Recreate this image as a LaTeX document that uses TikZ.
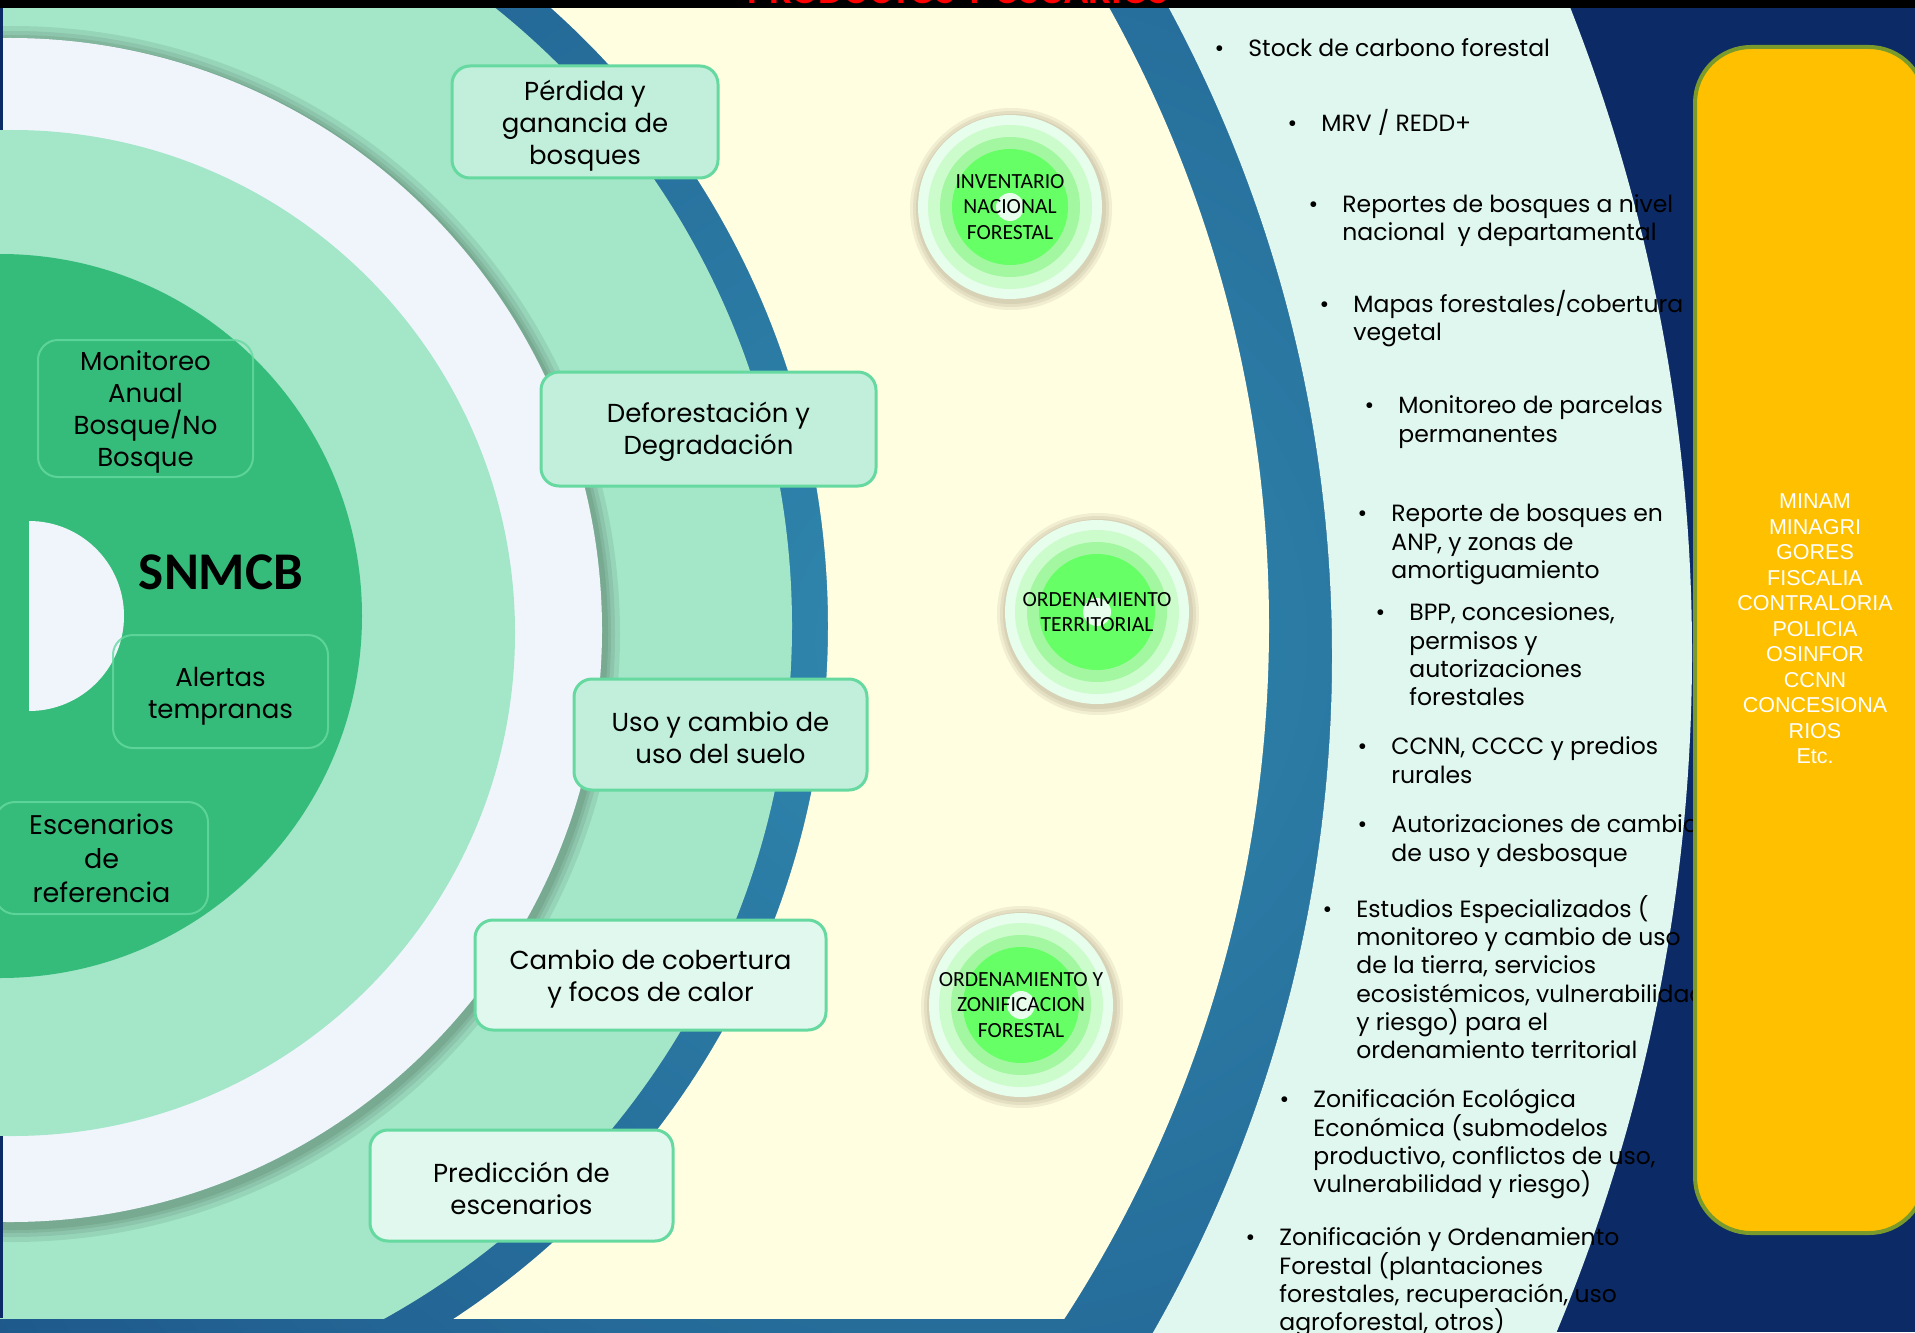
\documentclass[tikz,border=0pt]{standalone}
\usepackage{fontspec}
\setmainfont{Poppins}
\newfontfamily\calibri{Carlito}
\newfontfamily\arialsans{Liberation Sans}
\usetikzlibrary{calc}

\definecolor{navy}{HTML}{0C2A66}
\definecolor{ringlight}{HTML}{3089AF}
\definecolor{ringdark}{HTML}{1A4C82}
\definecolor{mint}{HTML}{A3E6C8}
\definecolor{forest}{HTML}{35BC7A}
\definecolor{paleblue}{HTML}{F0F5FC}
\definecolor{cream}{HTML}{FFFEE0}
\definecolor{cyanband}{HTML}{DFF7EE}
\definecolor{boxfill}{HTML}{C2EFDB}
\definecolor{boxfilllight}{HTML}{E0F8EE}
\definecolor{boxedge}{HTML}{66D9A0}
\definecolor{gold}{HTML}{FFC000}
\definecolor{olive}{HTML}{7A9A2C}
\definecolor{ringone}{HTML}{E6FEEB}
\definecolor{ringtwo}{HTML}{CCFCCC}
\definecolor{ringthree}{HTML}{A2F7A0}
\definecolor{core}{HTML}{66FF66}

\begin{document}
\begin{tikzpicture}[x=0.5pt, y=-0.5pt,
	mintbox/.style={draw=boxedge, line width=1.5pt, rounded corners=9pt, fill=boxfill, align=center, inner sep=0pt, font=\fontsize{13}{16}\selectfont},
	mintboxlight/.style={mintbox, fill=boxfilllight},
	innerbox/.style={draw=boxedge, draw opacity=0.8, line width=1pt, rounded corners=10pt, align=center, inner sep=0pt, font=\fontsize{13}{16}\selectfont},
	bulletitem/.style={anchor=north west, align=left, inner sep=0pt, font={\fontsize{11.75}{14.15}\selectfont\lineskiplimit=-20pt}},
	circlelabel/.style={align=center, inner sep=0pt, font=\calibri\fontsize{10.8}{12.8}\selectfont},
	orgbox/.style={draw=olive, line width=2pt, fill=gold, rounded corners=28pt, minimum width=115pt, minimum height=593pt},
	orgtext/.style={align=center, inner sep=0pt, text=white, font=\arialsans\fontsize{10.75}{12.75}\selectfont}
	]

	\useasboundingbox (0,0) rectangle (1915,1332);

	% background and rings
	\fill[navy] (0,0) rectangle (1915,1332);
	\begin{scope}
		\clip (-34,656) circle (1366);
		\shade[inner color=ringlight, outer color=ringdark] (950,640) circle (1500);
	\end{scope}
	\fill[cyanband, even odd rule] (-72,653) circle (1764) (-34,656) circle (1366);

	\begin{scope}
		\clip (0,8) rectangle (1915,1318);
		\fill[cream, even odd rule] (-5,626) circle (1274) (0,626) circle (828);
		\fill[mint] (0,626) circle (792);
		\foreach \s in {16,11,7,4}
			\fill[black, opacity=0.07] (12,634) circle (592+\s);
		\fill[paleblue] (10,630) circle (592);
		\fill[navy] (0,8) rectangle (2.5,1318);
		\fill[mint] (12,633) circle (503);
		\fill[forest] (0,616) circle (362);
		\fill[paleblue] (29,711) arc[start angle=90, end angle=-90, radius=95] -- cycle;
	\end{scope}

	% inner boxes
	\node[font=\calibri\bfseries\fontsize{26.5}{26.5}\selectfont] (snmcb) at (221,572) {SNMCB};
	\node[innerbox, minimum width=107.5pt, minimum height=68.5pt] (monitoreo) at (145.5,408.5) {\rule{0pt}{13.5pt}Monitoreo\\Anual\\Bosque/No\\Bosque};
	\node[innerbox, minimum width=107.5pt, minimum height=56.5pt] (alertas) at (220.5,691.5) {\rule{0pt}{14pt}Alertas\\tempranas};
	\node[innerbox, minimum width=106.5pt, minimum height=56pt, font=\fontsize{13.5}{17}\selectfont] (escenarios) at (101.5,858) {Escenarios\\de\\referencia};

	% products
	\node[mintbox, minimum width=133pt, minimum height=56pt] (perdida) at (585,122) {\rule{0pt}{13.5pt}Pérdida y\\ganancia de\\bosques};
	\node[mintbox, minimum width=167.5pt, minimum height=57pt] (deforestacion) at (708.5,429) {\rule{0pt}{13.5pt}Deforestación y\\Degradación};
	\node[mintbox, minimum width=146.5pt, minimum height=55.5pt] (uso-suelo) at (720.5,734.5) {\rule{0pt}{13pt}Uso y cambio de\\uso del suelo};
	\node[mintboxlight, minimum width=175.5pt, minimum height=55pt] (cambio-cobertura) at (650.5,975) {\rule{0pt}{13.5pt}Cambio de cobertura\\y focos de calor};
	\node[mintboxlight, minimum width=151.5pt, minimum height=55.5pt] (prediccion) at (521.5,1185.5) {\rule{0pt}{13.5pt}Predicción de\\escenarios};

	% thematic circles
	\foreach \cx/\cy/\nm/\txt in {1010/207/inventario/{INVENTARIO\\NACIONAL\\FORESTAL},
		1097/612/ordenamiento/{ORDENAMIENTO\\TERRITORIAL},
		1021/1005/zonificacion/{ORDENAMIENTO Y\\ZONIFICACION\\FORESTAL}} {
		\foreach \s in {9,6,3}
			\fill[black!70!brown, opacity=0.07] (\cx+1,\cy+2) circle (92+\s);
		\fill[ringone] (\cx,\cy) circle (92);
		\fill[ringtwo] (\cx,\cy) circle (82);
		\fill[ringthree] (\cx,\cy) circle (70);
		\fill[core] (\cx,\cy) circle (58);
		\fill[ringone] (\cx,\cy) circle (14);
		\node[circlelabel] (\nm) at (\cx,\cy) {\txt};
	}

	% bullet list
	\node[bulletitem] (stock) at (1248,36) {\strut\llap{\textbullet\hspace{12pt}}Stock de carbono forestal};
	\node[bulletitem] (mrv) at (1321,109) {\strut\llap{\textbullet\hspace{12pt}}MRV / REDD+};
	\node[bulletitem] (reportes) at (1342,192) {\strut\llap{\textbullet\hspace{12pt}}Reportes de bosques a nivel\\nacional~ y departamental};
	\node[bulletitem] (mapas) at (1353,290) {\strut\llap{\textbullet\hspace{12pt}}Mapas forestales/cobertura\\vegetal};
	\node[bulletitem] (parcelas) at (1398,393.5) {\strut\llap{\textbullet\hspace{12pt}}Monitoreo de parcelas\\permanentes};
	\node[bulletitem] (anp) at (1391,501.7) {\strut\llap{\textbullet\hspace{12pt}}Reporte de bosques en\\ANP, y zonas de\\amortiguamiento};
	\node[bulletitem] (bpp) at (1409,600.7) {\strut\llap{\textbullet\hspace{12pt}}BPP, concesiones,\\permisos y\\autorizaciones\\forestales};
	\node[bulletitem] (ccnn) at (1391,734.7) {\strut\llap{\textbullet\hspace{12pt}}CCNN, CCCC y predios\\rurales};
	\node[bulletitem] (desbosque) at (1391,812.7) {\strut\llap{\textbullet\hspace{12pt}}Autorizaciones de cambio\\de uso y desbosque};
	\node[bulletitem] (estudios) at (1356,895) {\strut\llap{\textbullet\hspace{12pt}}Estudios Especializados (\\monitoreo y cambio de uso\\de la tierra, servicios\\ecosistémicos, vulnerabilidad\\y riesgo) para el\\ordenamiento territorial};
	\node[bulletitem] (zee) at (1313,1087.7) {\strut\llap{\textbullet\hspace{12pt}}Zonificación Ecológica\\Económica (submodelos\\productivo, conflictos de uso,\\vulnerabilidad y riesgo)};
	\node[bulletitem] (zof) at (1279,1225.7) {\strut\llap{\textbullet\hspace{12pt}}Zonificación y Ordenamiento\\Forestal (plantaciones\\forestales, recuperación, uso\\agroforestal, otros)};

	% users
	\node[orgbox] (usuarios-box) at (1810,640) {};
	\node[orgtext] (usuarios) at (1815,629) {MINAM\\MINAGRI\\GORES\\FISCALIA\\CONTRALORIA\\POLICIA\\OSINFOR\\CCNN\\CONCESIONA\\RIOS\\Etc.};

	% title bar
	\begin{scope}
		\clip (0,0) rectangle (1915,8);
		\fill[black] (0,0) rectangle (1915,8);
		\node[anchor=base, inner sep=0pt, text=red, font=\calibri\bfseries\fontsize{20}{20}\selectfont] (titulo) at (958,4) {PRODUCTOS Y USUARIOS};
	\end{scope}

\end{tikzpicture}
\end{document}
